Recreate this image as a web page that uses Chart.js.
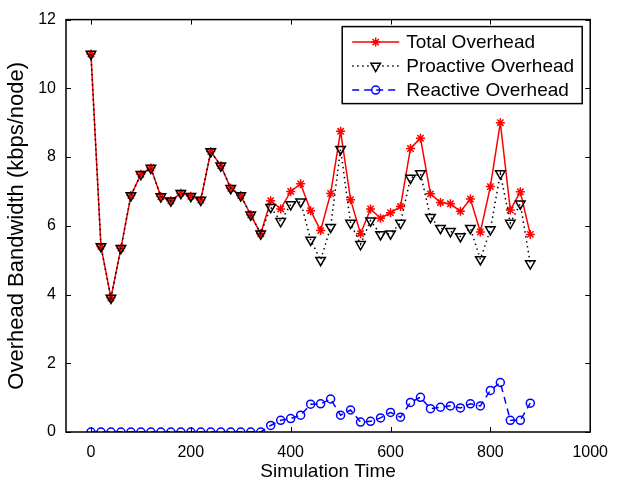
<!DOCTYPE html>
<html>
<head>
<meta charset="utf-8">
<script src="https://cdn.jsdelivr.net/npm/chart.js@4"></script>
<style>
  body { margin: 0; background: #fff; }
  #wrap { width: 619px; height: 481px; }
</style>
</head>
<body>
<div id="wrap"><canvas id="myChart" width="619" height="481"></canvas></div>
<script>
// simulation time samples
var simTime = [0, 20, 40, 60, 80, 100, 120, 140, 160, 180, 200, 220, 240, 260, 280, 300, 320, 340,
  360, 380, 400, 420, 440, 460, 480, 500, 520, 540, 560, 580, 600, 620, 640, 660, 680, 700,
  720, 740, 760, 780, 800, 820, 840, 860, 880];

var totalOverhead = [11.0, 5.4, 3.9, 5.35, 6.88, 7.5, 7.68, 6.85, 6.73, 6.95, 6.86, 6.75, 8.16, 7.75, 7.09, 6.88, 6.32, 5.77,
  6.73, 6.49, 7.0, 7.22, 6.44, 5.86, 6.94, 8.75, 6.76, 5.77, 6.49, 6.22, 6.38, 6.56, 8.25, 8.55, 6.93, 6.68,
  6.64, 6.42, 6.78, 5.82, 7.14, 9.0, 6.46, 6.99, 5.75];

var proactiveOverhead = [11.0, 5.4, 3.9, 5.35, 6.88, 7.5, 7.68, 6.85, 6.73, 6.95, 6.86, 6.75, 8.16, 7.75, 7.09, 6.88, 6.32, 5.77,
  6.54, 6.13, 6.62, 6.70, 5.59, 5.0, 5.96, 8.23, 6.08, 5.46, 6.15, 5.75, 5.77, 6.08, 7.39, 7.52, 6.25, 5.93,
  5.84, 5.69, 5.93, 5.02, 5.89, 7.52, 6.08, 6.64, 4.9];

var reactiveOverhead = [0, 0, 0, 0, 0, 0, 0, 0, 0, 0, 0, 0, 0, 0, 0, 0, 0, 0,
  0.19, 0.34, 0.39, 0.49, 0.81, 0.82, 0.96, 0.49, 0.64, 0.29, 0.31, 0.41, 0.57, 0.43, 0.86, 1.01, 0.68, 0.72,
  0.76, 0.70, 0.82, 0.76, 1.21, 1.44, 0.34, 0.34, 0.84];

var xTicks = [0, 200, 400, 600, 800, 1000];
var yTicks = [0, 2, 4, 6, 8, 10, 12];

var fontFam = "'Liberation Sans', Arial, Helvetica, sans-serif";

function pts(ys) {
  return simTime.map(function (x, i) { return { x: x, y: ys[i] }; });
}

var datasets = [
  {
    label: 'Total Overhead',
    data: pts(totalOverhead),
    borderColor: '#ff0000',
    backgroundColor: 'rgba(0,0,0,0)',
    borderWidth: 1.5,
    pointStyle: 'star',
    pointRadius: 4.5,
    pointBorderColor: '#ff0000',
    pointBorderWidth: 1.5,
    order: 2
  },
  {
    label: 'Proactive Overhead',
    data: pts(proactiveOverhead),
    borderColor: '#000000',
    backgroundColor: 'rgba(0,0,0,0)',
    borderWidth: 1.5,
    borderDash: [1.5, 3.5],
    pointStyle: 'triangle',
    pointRotation: 180,
    pointRadius: 5.5,
    pointBorderColor: '#000000',
    pointBackgroundColor: 'rgba(0,0,0,0)',
    pointBorderWidth: 1.5,
    order: 1
  },
  {
    label: 'Reactive Overhead',
    data: pts(reactiveOverhead),
    borderColor: '#0000ff',
    backgroundColor: 'rgba(0,0,0,0)',
    borderWidth: 1.5,
    borderDash: [7, 5],
    pointStyle: 'circle',
    pointRadius: 4,
    pointBorderColor: '#0000ff',
    pointBackgroundColor: 'rgba(0,0,0,0)',
    pointBorderWidth: 1.5,
    order: 0
  }
];

// box around the plot with inward ticks on all four sides, matlab style
var boxPlugin = {
  id: 'boxTicks',
  afterDraw: function (chart) {
    var ctx = chart.ctx;
    var a = chart.chartArea;
    var xs = chart.scales.x, ys = chart.scales.y;
    var len = 5;
    ctx.save();
    ctx.strokeStyle = '#000';
    ctx.lineWidth = 1.5;
    ctx.setLineDash([]);
    ctx.strokeRect(a.left, a.top, a.right - a.left, a.bottom - a.top);
    ctx.lineWidth = 1;
    ctx.beginPath();
    xTicks.forEach(function (v) {
      var px = Math.round(xs.getPixelForValue(v)) + 0.5;
      ctx.moveTo(px, a.bottom); ctx.lineTo(px, a.bottom - len);
      ctx.moveTo(px, a.top); ctx.lineTo(px, a.top + len);
    });
    yTicks.forEach(function (v) {
      var py = Math.round(ys.getPixelForValue(v)) + 0.5;
      ctx.moveTo(a.left, py); ctx.lineTo(a.left + len, py);
      ctx.moveTo(a.right, py); ctx.lineTo(a.right - len, py);
    });
    ctx.stroke();
    ctx.restore();
  }
};

// legend box inside the plot, line sample with marker in the middle
var legendPlugin = {
  id: 'matLegend',
  afterDraw: function (chart) {
    var ctx = chart.ctx;
    var a = chart.chartArea;
    var bx = a.right - 248, by = a.top + 7, bw = 240, bh = 77;
    ctx.save();
    ctx.fillStyle = '#fff';
    ctx.fillRect(bx, by, bw, bh);
    ctx.strokeStyle = '#000';
    ctx.lineWidth = 1.5;
    ctx.strokeRect(bx, by, bw, bh);
    ctx.font = '19px ' + fontFam;
    ctx.textBaseline = 'middle';
    datasets.forEach(function (ds, i) {
      var cy = by + 15.5 + i * 24;
      var x0 = bx + 10, x1 = bx + 57, xm = (x0 + x1) / 2;
      ctx.strokeStyle = ds.borderColor;
      ctx.lineWidth = ds.borderWidth;
      ctx.setLineDash(ds.borderDash || []);
      ctx.beginPath();
      ctx.moveTo(x0, cy); ctx.lineTo(x1, cy);
      ctx.stroke();
      ctx.setLineDash([]);
      ctx.strokeStyle = ds.pointBorderColor;
      ctx.fillStyle = 'rgba(0,0,0,0)';
      ctx.lineWidth = ds.pointBorderWidth;
      if (Chart.helpers && Chart.helpers.drawPoint) {
        Chart.helpers.drawPoint(ctx, {
          pointStyle: ds.pointStyle,
          rotation: ds.pointRotation || 0,
          radius: ds.pointRadius,
          borderWidth: ds.pointBorderWidth
        }, xm, cy);
      }
      ctx.fillStyle = '#000';
      ctx.fillText(ds.label, bx + 64, cy + 1);
    });
    ctx.restore();
  }
};

var ctx = document.getElementById('myChart');
var myChart = new Chart(ctx, {
  type: 'line',
  data: { datasets: datasets },
  plugins: [boxPlugin, legendPlugin],
  options: {
    responsive: false,
    animation: false,
    devicePixelRatio: 1,
    layout: { padding: { left: 6, top: 16, right: 26, bottom: 0 } },
    plugins: {
      legend: { display: false },
      tooltip: { enabled: false }
    },
    elements: { line: { tension: 0 } },
    scales: {
      x: {
        type: 'linear',
        min: -50,
        max: 1000,
        afterBuildTicks: function (scale) {
          scale.ticks = xTicks.map(function (v) { return { value: v }; });
        },
        afterFit: function (scale) { scale.height = 49; },
        grid: { display: false, drawTicks: false },
        border: { display: false },
        ticks: {
          color: '#000', font: { family: fontFam, size: 16 }, padding: 11, maxRotation: 0,
          callback: function (v) { return String(v); }
        },
        title: {
          display: true,
          text: 'Simulation Time',
          color: '#000',
          font: { family: fontFam, size: 19, lineHeight: 1 },
          padding: { top: 0, bottom: 0 }
        }
      },
      y: {
        type: 'linear',
        min: 0,
        max: 12,
        afterBuildTicks: function (scale) {
          scale.ticks = yTicks.map(function (v) { return { value: v }; });
        },
        afterFit: function (scale) { scale.width = 60; },
        grid: { display: false, drawTicks: false },
        border: { display: false },
        ticks: {
          color: '#000', font: { family: fontFam, size: 16 }, padding: 10,
          callback: function (v) { return String(v); }
        },
        title: {
          display: true,
          text: 'Overhead Bandwidth (kbps/node)',
          color: '#000',
          font: { family: fontFam, size: 22, lineHeight: 1 },
          padding: 0
        }
      }
    }
  }
});
</script>
</body>
</html>
